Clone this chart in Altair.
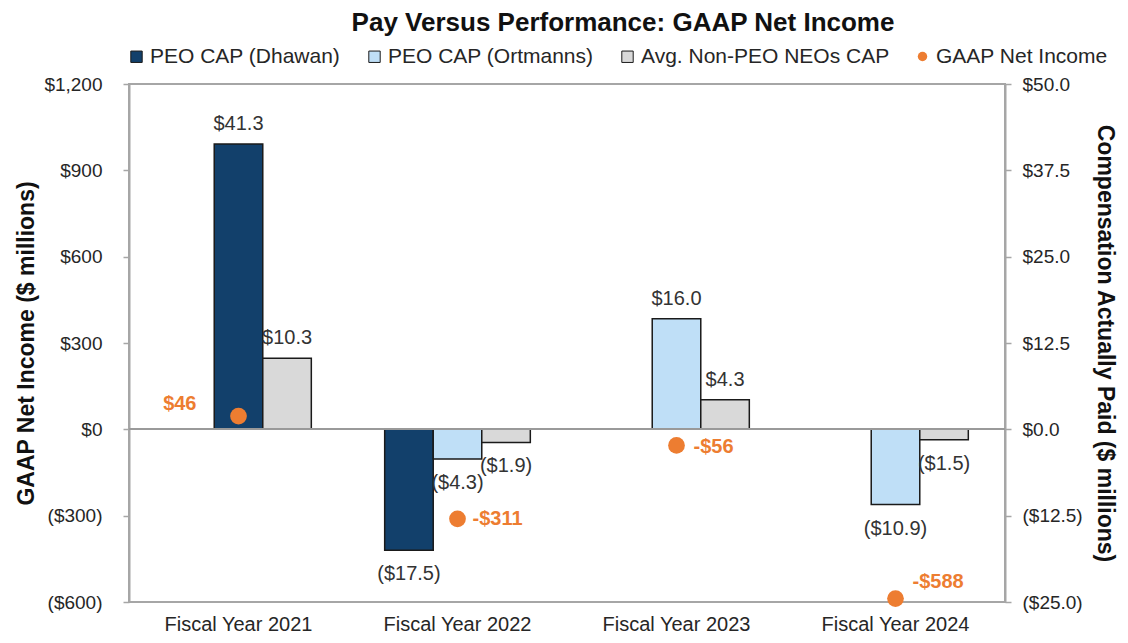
import altair as alt
import pandas as pd

# ---------------- data ----------------
years = ["Fiscal Year 2021", "Fiscal Year 2022", "Fiscal Year 2023", "Fiscal Year 2024"]
series = ["PEO CAP (Dhawan)", "PEO CAP (Ortmanns)", "Avg. Non-PEO NEOs CAP"]
dhawan_cap = [41.3, -17.5, None, None]
ortmanns_cap = [None, -4.3, 16.0, -10.9]
avg_neo_cap = [10.3, -1.9, 4.3, -1.5]
net_income = [46, -311, -56, -588]
net_income_name = "GAAP Net Income"

# ---------------- styling ----------------
FONT = "Liberation Sans"
bar_colors = ["#12406b", "#bfdff7", "#d9d9d9"]
orange = "#ED7D31"
axis_gray = "#a6a6a6"
text_dark = "#262626"

# bars are right-aligned inside three slots per category (as in the reference)
rows = []
for i, yr in enumerate(years):
    present = [(s, v) for s, v in zip(series, [dhawan_cap[i], ortmanns_cap[i], avg_neo_cap[i]]) if v is not None]
    for k, (s, v) in enumerate(present):
        slot = 3 - len(present) + k
        lab = f"${v:.1f}" if v >= 0 else f"(${-v:.1f})"
        rows.append({"year": yr, "series": s, "value": v, "slot": slot, "label": lab})
bars_df = pd.DataFrame(rows)

pts_df = pd.DataFrame({
    "year": years,
    "net_income": net_income,
    "metric": [net_income_name] * len(years),
    "label": [f"${v:,}" if v >= 0 else f"-${-v:,}" for v in net_income],
})

x_enc = alt.X(
    "year:N",
    sort=years,
    scale=alt.Scale(domain=years, paddingInner=0.335, paddingOuter=0.1675),
    axis=alt.Axis(title=None, labelFontSize=20, labelColor=text_dark, ticks=False,
                  labelAngle=0, labelLimit=0, labelPadding=12, domain=False, labelFont=FONT),
)
xoff_enc = alt.XOffset("slot:O", scale=alt.Scale(domain=[0, 1, 2], paddingInner=0, paddingOuter=0))

y_comp = alt.Y(
    "value:Q",
    scale=alt.Scale(domain=[-25, 50], nice=False, zero=False),
    axis=alt.Axis(
        orient="right",
        values=[-25, -12.5, 0, 12.5, 25, 37.5, 50],
        labelExpr="datum.value < 0 ? '($' + format(-datum.value, '.1f') + ')' : '$' + format(datum.value, '.1f')",
        labelFontSize=19, labelColor=text_dark, labelPadding=11,
        tickSize=6, tickColor=axis_gray, tickWidth=1.5,
        domainColor=axis_gray, domainWidth=2, grid=False,
        title="Compensation Actually Paid ($ millions)",
        titleFontSize=23, titleFontWeight="bold", titleColor="#111111",
        titleAngle=90, titleX=99, titleY=259, titleAlign="center", titleBaseline="middle",
    ),
)

bars = alt.Chart(bars_df).mark_bar(stroke="#1a1a1a", strokeWidth=1.5).encode(
    x=x_enc,
    xOffset=xoff_enc,
    y=y_comp,
    y2=alt.datum(0),
    color=alt.Color(
        "series:N",
        scale=alt.Scale(domain=series, range=bar_colors),
        legend=alt.Legend(
            title=None, orient="none", legendX=-3, legendY=-38, direction="horizontal",
            labelFontSize=21, labelColor=text_dark, labelFont=FONT, labelLimit=0,
            symbolType="square", symbolSize=130, symbolStrokeColor="#1a1a1a",
            symbolStrokeWidth=1, labelOffset=3, columnPadding=23, padding=0,
        ),
    ),
)

lab_pos = alt.Chart(bars_df).transform_filter("datum.value >= 0").mark_text(
    fontSize=20, color="#333333", baseline="middle", dy=-20, font=FONT
).encode(x=x_enc, xOffset=xoff_enc, y=y_comp, text="label:N")

lab_neg = alt.Chart(bars_df).transform_filter("datum.value < 0").mark_text(
    fontSize=20, color="#333333", baseline="middle", dy=24, font=FONT
).encode(x=x_enc, xOffset=xoff_enc, y=y_comp, text="label:N")

zero_rule = alt.Chart(bars_df).mark_rule(color="#9a9a9a", strokeWidth=1.5).encode(
    y=alt.datum(0)
)

bar_group = alt.layer(bars, lab_pos, lab_neg, zero_rule)

y_ni = alt.Y(
    "net_income:Q",
    scale=alt.Scale(domain=[-600, 1200], nice=False, zero=False),
    axis=alt.Axis(
        orient="left",
        values=[-600, -300, 0, 300, 600, 900, 1200],
        labelExpr="datum.value < 0 ? '($' + format(-datum.value, ',') + ')' : '$' + format(datum.value, ',')",
        labelFontSize=19, labelColor=text_dark, labelPadding=21,
        tickSize=6, tickColor=axis_gray, tickWidth=1.5,
        domainColor=axis_gray, domainWidth=2, grid=False,
        title="GAAP Net Income ($ millions)",
        titleFontSize=23, titleFontWeight="bold", titleColor="#111111",
        titleAngle=270, titleX=-103, titleY=259, titleAlign="center", titleBaseline="middle",
    ),
)

points = alt.Chart(pts_df).mark_circle(size=280, opacity=1).encode(
    x=x_enc,
    y=y_ni,
    color=alt.Color(
        "metric:N",
        scale=alt.Scale(domain=[net_income_name], range=[orange]),
        legend=alt.Legend(
            title=None, orient="none", legendX=783, legendY=-38,
            labelFontSize=21, labelColor=text_dark, labelFont=FONT, labelLimit=0,
            symbolSize=90, labelOffset=3, padding=0,
        ),
    ),
)

# label placement per year (styling only)
placements = {
    "Fiscal Year 2021": ("right", -42, -12),
    "Fiscal Year 2022": ("left", 15, 0),
    "Fiscal Year 2023": ("left", 17, 2),
    "Fiscal Year 2024": ("left", 17, -17),
}
pt_labels = []
for yr, (al, dx, dy) in placements.items():
    pt_labels.append(
        alt.Chart(pts_df).transform_filter(alt.datum.year == yr).mark_text(
            fontSize=20, fontWeight="bold", color=orange, align=al, baseline="middle",
            dx=dx, dy=dy, font=FONT,
        ).encode(x=x_enc, y=y_ni, text="label:N")
    )

point_group = alt.layer(points, *pt_labels)

chart = (
    alt.layer(bar_group, point_group)
    .resolve_scale(y="independent", color="independent")
    .properties(
        width=876,
        height=518,
        padding={"left": 121, "top": 76, "right": 115, "bottom": 33},
        autosize=alt.AutoSizeParams(type="none"),
        title=alt.Title(
            "Pay Versus Performance: GAAP Net Income",
            fontSize=26, fontWeight="bold", color="#111111", font=FONT,
            anchor="middle", dx=56, offset=10,
        ),
    )
    .configure(font=FONT)
    .configure_view(stroke=axis_gray, strokeWidth=2)
)

chart.save("out.html", embed_options={"renderer": "svg", "actions": False})
